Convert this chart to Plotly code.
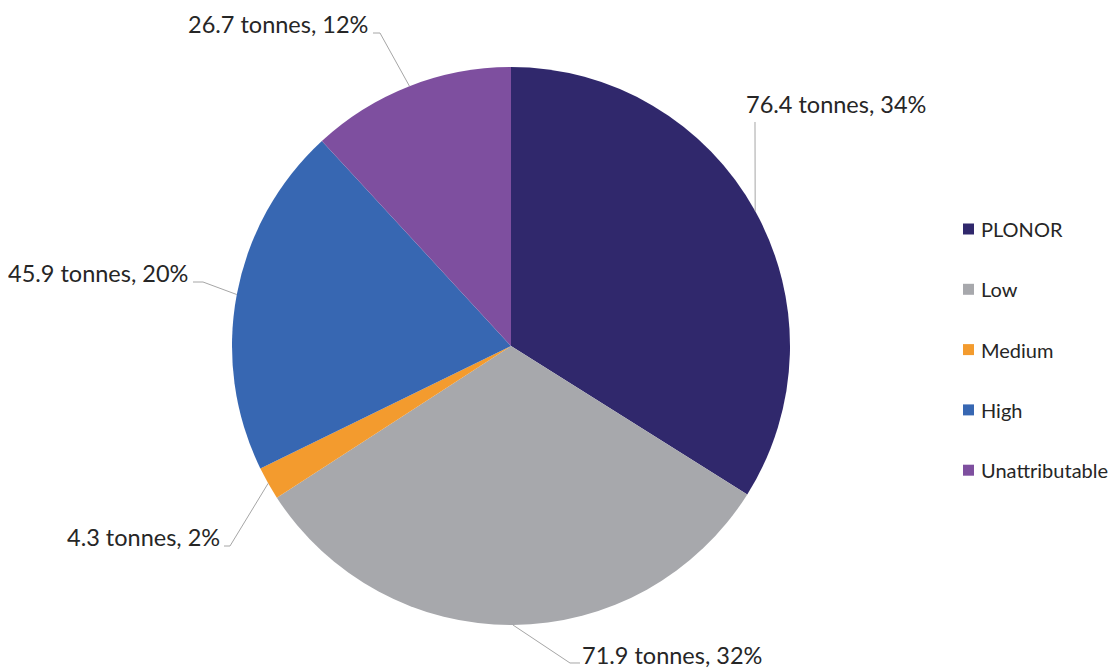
import math
import plotly.graph_objects as go

# ---- data ----
categories = ["PLONOR", "Low", "Medium", "High", "Unattributable"]
tonnes = [76.4, 71.9, 4.3, 45.9, 26.7]
colors = ["#30286C", "#A7A8AC", "#F39B2E", "#3767B2", "#7E4F9F"]

# ---- layout config (screen pixels) ----
W, H = 1120, 669
OFF = 8  # page body margin offset
CX, CY, R = 511, 346, 279
leader_pts = [
    [(755, 122)],
    [(570, 663), (580, 663)],
    [(230, 546), (224, 546)],
    [(203, 282), (193, 282)],
    [(380, 33), (373, 33)],
]
label_pos = [
    (744, 104, "left"),
    (580, 655, "left"),
    (222, 537, "right"),
    (190, 273, "right"),
    (370, 24, "right"),
]
LEG_X, LEG_Y0, LEG_DY, SQ = 963, 229, 60.3, 11

def px(x):
    return (x - OFF) / W

def py(y):
    return 1 - (y - OFF) / H

fig = go.Figure()
fig.add_trace(go.Pie(
    labels=categories, values=tonnes, sort=False, direction="clockwise",
    rotation=0, marker=dict(colors=colors, line=dict(width=0)),
    textinfo="none", hoverinfo="label+value+percent", showlegend=False,
    domain=dict(x=[px(CX - R), px(CX + R)], y=[py(CY + R), py(CY - R)]),
))

total = sum(tonnes)
shapes, annotations = [], []
cum = 0.0
for i, v in enumerate(tonnes):
    mid = (cum + v / 2) / total * 2 * math.pi
    cum += v
    ex, ey = CX + R * math.sin(mid), CY - R * math.cos(mid)
    pts = [(ex, ey)] + leader_pts[i]
    path = "M " + " L ".join(f"{px(x):.5f},{py(y):.5f}" for x, y in pts)
    shapes.append(dict(type="path", path=path, xref="paper", yref="paper",
                       line=dict(color="#A6A6A6", width=1)))
    pct = round(v / total * 100)
    lx, ly, anc = label_pos[i]
    annotations.append(dict(
        x=px(lx), y=py(ly), xref="paper", yref="paper", showarrow=False,
        text=f"{v} tonnes, {pct}%", xanchor=anc,
        yanchor="middle", font=dict(family="Lato", size=23.5, color="#262626"),
    ))

# custom legend
for i, (c, name) in enumerate(zip(colors, categories)):
    yc = LEG_Y0 + i * LEG_DY
    shapes.append(dict(type="rect", xref="paper", yref="paper",
                       x0=px(LEG_X), x1=px(LEG_X + SQ),
                       y0=py(yc + SQ / 2), y1=py(yc - SQ / 2),
                       fillcolor=c, line=dict(width=0)))
    annotations.append(dict(
        x=px(LEG_X + SQ + 5), y=py(yc), xref="paper", yref="paper",
        showarrow=False, text=name, xanchor="left", yanchor="middle",
        font=dict(family="Lato", size=20, color="#262626"),
    ))

fig.update_layout(
    width=W, height=H, margin=dict(l=0, r=0, t=0, b=0),
    paper_bgcolor="white", plot_bgcolor="white",
    shapes=shapes, annotations=annotations, showlegend=False,
)
fig.write_html("out.html")
